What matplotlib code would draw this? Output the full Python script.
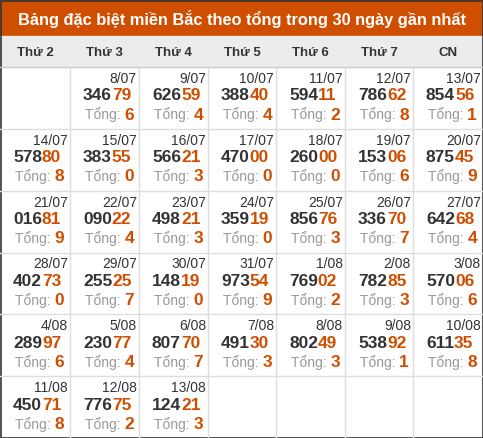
import matplotlib.pyplot as plt
from matplotlib.patches import Rectangle

title = "Bảng đặc biệt miền Bắc theo tổng trong 30 ngày gần nhất"
weekdays = ["Thứ 2", "Thứ 3", "Thứ 4", "Thứ 5", "Thứ 6", "Thứ 7", "CN"]
dates = ["8/07", "9/07", "10/07", "11/07", "12/07", "13/07",
         "14/07", "15/07", "16/07", "17/07", "18/07", "19/07", "20/07",
         "21/07", "22/07", "23/07", "24/07", "25/07", "26/07", "27/07",
         "28/07", "29/07", "30/07", "31/07", "1/08", "2/08", "3/08",
         "4/08", "5/08", "6/08", "7/08", "8/08", "9/08", "10/08",
         "11/08", "12/08", "13/08"]
specials = ["34679", "62659", "38840", "59411", "78662", "85456",
            "57880", "38355", "56621", "47000", "26000", "15306", "87545",
            "01681", "09022", "49821", "35919", "85676", "33670", "64268",
            "40273", "25525", "14819", "97354", "76902", "78285", "57006",
            "28997", "23077", "80770", "49130", "80249", "53892", "61135",
            "45071", "77675", "12421"]
first_col = 1  # 8/07 is a Tuesday

W, H = 483, 438
ORANGE = "#d04e00"
FONT = "Liberation Sans"

fig = plt.figure(figsize=(W / 100, H / 100), dpi=100)
ax = fig.add_axes([0, 0, 1, 1])
ax.set_xlim(0, W)
ax.set_ylim(H, 0)
ax.axis("off")
renderer = fig.canvas.get_renderer()


def text_w(t):
    # width in pixels (= data units here)
    bb = t.get_window_extent(renderer=renderer)
    return bb.width


col_x = [0, 70, 139, 208, 276, 345, 413, 483]
title_h, head_h = 36, 31
row_h = (H - title_h - head_h) / 6

ax.add_patch(Rectangle((0, 0), W, title_h, color=ORANGE))
ax.text(W / 2, title_h / 2 + 1, title, color="white", fontsize=11.8, fontweight="bold",
        ha="center", va="center", family=FONT)
ax.add_patch(Rectangle((0, title_h), W, head_h, color="#ececec"))
for i, d in enumerate(weekdays):
    ax.text((col_x[i] + col_x[i + 1]) / 2, title_h + head_h / 2 + 1, d, fontsize=9.5,
            fontweight="bold", color="#333333", ha="center", va="center", family=FONT)

y0 = title_h + head_h
for r in range(1, 6):
    ax.plot([0, W], [y0 + r * row_h] * 2, color="#dddddd", lw=1)
ax.plot([0, W], [y0, y0], color="#cccccc", lw=1)
for c in range(1, 7):
    ax.plot([col_x[c]] * 2, [y0, H], color="#dddddd", lw=1)
ax.add_patch(Rectangle((0.5, 0.5), W - 1, H - 1, fill=False, ec="#333333", lw=1.2))

for k, (d, s) in enumerate(zip(dates, specials)):
    pos = k + first_col
    r, c = divmod(pos, 7)
    x0, x1 = col_x[c], col_x[c + 1]
    top = y0 + r * row_h
    ax.text(x1 - 2, top + 12, d, fontsize=10, color="#333333", ha="right", va="center", family=FONT)
    nx = x0 + 13
    t = ax.text(nx, top + 29, s[:3], fontsize=12.5, fontweight="bold", color="#333333",
                ha="left", va="center", family=FONT)
    ax.text(nx + text_w(t), top + 29, s[3:], fontsize=12.5, fontweight="bold", color=ORANGE,
            ha="left", va="center", family=FONT)
    tong = (int(s[3]) + int(s[4])) % 10
    t = ax.text(nx + 2, top + 48, "Tổng: ", fontsize=10, color="#999999", ha="left", va="center", family=FONT)
    ax.text(nx + 2 + text_w(t), top + 48, str(tong), fontsize=12.5, fontweight="bold", color=ORANGE,
            ha="left", va="center", family=FONT)

fig.savefig("out.png", dpi=100)
